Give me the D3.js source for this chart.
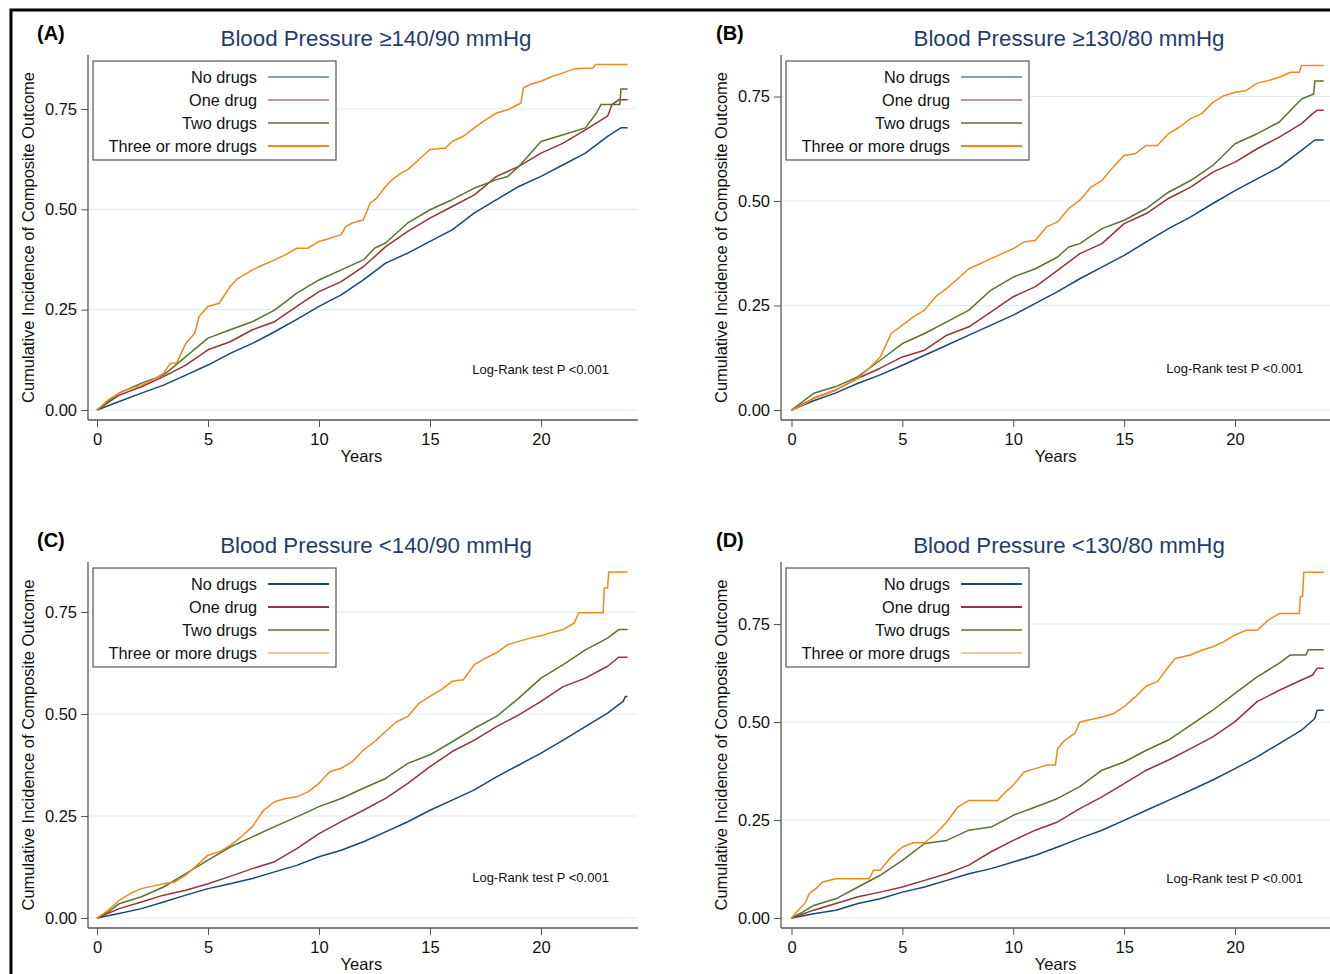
<!DOCTYPE html>
<html><head><meta charset="utf-8">
<script src="https://cdn.jsdelivr.net/npm/d3@7"></script>
<style>body{margin:0;background:#fff}svg{display:block}text{font-family:"Liberation Sans",Arial,sans-serif}</style>
</head><body>
<svg id="c" width="1330" height="974"></svg>
<script>
// ---------- data (years, cumulative incidence) ----------
const seriesNames = ["No drugs","One drug","Two drugs","Three or more drugs"];
const xTicks = [0,5,10,15,20];
const yTicks = [0,0.25,0.5,0.75];
const panelLetters = ["(A)","(B)","(C)","(D)"];
const panelTitles = ["Blood Pressure \u2265140/90 mmHg","Blood Pressure \u2265130/80 mmHg","Blood Pressure <140/90 mmHg","Blood Pressure <130/80 mmHg"];
const pText = "Log-Rank test P <0.001";

const A_none = [[0,0],[1,.021],[2,.042],[3,.062],[4,.087],[5,.112],[6,.141],[7,.166],[8,.195],[9,.226],[10,.258],[11,.287],[12,.324],[13,.366],[14,.391],[15,.42],[16,.449],[17,.491],[18,.524],[19,.557],[20,.582],[21,.611],[22,.64],[23,.682],[23.6,.703],[23.9,.703]];
const A_one = [[0,0],[1,.037],[2,.058],[3,.083],[4,.112],[5,.15],[6,.17],[7,.2],[8,.22],[9,.258],[10,.295],[11,.32],[12,.357],[13,.407],[14,.445],[15,.478],[16,.507],[17,.536],[18,.582],[19,.607],[20,.64],[21,.665],[22,.698],[23,.732],[23.2,.761],[23.5,.773],[23.9,.773]];
const A_two = [[0,0],[0.5,.021],[1,.042],[2,.067],[3,.087],[4,.133],[5,.179],[6,.2],[7,.22],[8,.249],[9,.291],[10,.324],[11,.349],[12,.374],[12.5,.403],[13,.416],[14,.466],[15,.499],[16,.524],[17,.553],[18,.574],[18.5,.582],[19,.607],[20,.669],[21,.686],[22,.703],[22.5,.74],[22.7,.761],[23.55,.761],[23.6,.8],[23.9,.8]];
const A_three = [[0,0],[0.5,.025],[1.2,.048],[2,.062],[2.5,.075],[3,.091],[3.3,.116],[3.6,.118],[4,.166],[4.4,.191],[4.6,.233],[5,.258],[5.5,.266],[5.8,.291],[6,.308],[6.3,.326],[7,.349],[7.5,.362],[8,.374],[8.5,.387],[9,.403],[9.5,.403],[10,.42],[10.5,.428],[11,.437],[11.2,.457],[11.5,.466],[12,.474],[12.3,.515],[12.6,.528],[13,.557],[13.3,.574],[13.7,.59],[14,.599],[14.5,.624],[15,.649],[15.7,.653],[16,.669],[16.5,.682],[17,.703],[17.5,.723],[18,.74],[18.5,.748],[19.1,.765],[19.2,.802],[19.5,.811],[20,.819],[20.5,.831],[21,.84],[21.5,.85],[22.35,.852],[22.45,.861],[23.9,.861]];

const B_none = [[0,0],[1,.022],[2,.041],[3,.064],[4,.084],[5,.107],[6,.131],[7,.155],[8,.179],[9,.203],[10,.227],[11,.255],[12,.283],[13,.314],[14,.342],[15,.37],[16,.402],[17,.434],[18,.462],[19,.494],[20,.525],[21,.553],[22,.581],[23,.621],[23.6,.646],[24,.646]];
const B_one = [[0,0],[1,.028],[2,.048],[3,.076],[4,.1],[5,.127],[6,.143],[7,.179],[8,.199],[9,.235],[10,.271],[11,.295],[12,.334],[13,.374],[14,.398],[15,.446],[16,.47],[17,.506],[18,.533],[19,.569],[20,.593],[21,.625],[22,.653],[23,.685],[23.5,.709],[23.7,.717],[24,.717]];
const B_two = [[0,0],[1,.04],[2,.056],[3,.08],[4,.119],[5,.159],[6,.183],[7,.211],[8,.239],[9,.287],[10,.318],[11,.338],[12,.366],[12.5,.39],[13,.398],[14,.434],[15,.454],[16,.482],[17,.521],[18,.549],[19,.585],[20,.637],[21,.661],[22,.689],[23,.744],[23.55,.756],[23.6,.787],[24,.787]];
const B_three = [[0,0],[0.5,.012],[1,.028],[2,.048],[3,.076],[3.5,.1],[4,.127],[4.5,.183],[5,.203],[5.5,.223],[6,.239],[6.5,.271],[7,.291],[7.5,.314],[8,.338],[8.5,.35],[9,.362],[9.5,.374],[10,.386],[10.5,.402],[11,.406],[11.5,.438],[12,.45],[12.5,.482],[13,.502],[13.5,.533],[14,.549],[14.5,.581],[15,.609],[15.5,.613],[16,.633],[16.5,.633],[17,.661],[17.5,.677],[18,.697],[18.5,.709],[19,.736],[19.5,.752],[20,.76],[20.5,.764],[21,.782],[21.5,.788],[22,.796],[22.5,.808],[22.9,.808],[23,.824],[24,.824]];

const C_none = [[0,0],[1,.011],[2,.023],[3,.039],[4,.056],[5,.072],[6,.084],[7,.097],[8,.113],[9,.129],[10,.15],[11,.166],[12,.187],[13,.211],[14,.236],[15,.264],[16,.289],[17,.314],[18,.346],[19,.375],[20,.404],[21,.436],[22,.469],[23,.502],[23.7,.531],[23.8,.543],[23.9,.543]];
const C_one = [[0,0],[1,.023],[2,.039],[3,.056],[4,.068],[5,.084],[6,.102],[7,.121],[8,.138],[9,.17],[10,.207],[11,.236],[12,.264],[13,.293],[14,.33],[15,.371],[16,.408],[17,.436],[18,.469],[19,.498],[20,.531],[21,.567],[22,.588],[23,.617],[23.5,.639],[23.9,.639]];
const C_two = [[0,0],[0.5,.015],[1,.035],[2,.052],[3,.076],[4,.109],[5,.142],[6,.174],[7,.199],[8,.224],[9,.248],[10,.273],[11,.293],[12,.318],[13,.342],[14,.379],[15,.4],[16,.432],[17,.465],[18,.494],[19,.539],[20,.588],[21,.621],[22,.657],[23,.686],[23.5,.707],[23.9,.707]];
const C_three = [[0,0],[0.5,.019],[1,.043],[1.5,.06],[2,.072],[3,.084],[3.5,.088],[4,.105],[4.5,.129],[5,.154],[5.5,.162],[6,.178],[6.5,.199],[7,.224],[7.5,.264],[8,.285],[8.5,.293],[9,.297],[9.5,.309],[10,.33],[10.5,.359],[11,.367],[11.5,.383],[12,.412],[12.5,.432],[13,.457],[13.5,.481],[14,.494],[14.5,.526],[15,.543],[15.5,.559],[16,.58],[16.5,.584],[17,.621],[17.5,.637],[18,.65],[18.5,.67],[19,.678],[19.5,.686],[20,.692],[20.5,.7],[21,.707],[21.5,.723],[21.7,.748],[22.8,.748],[22.85,.809],[23.0,.809],[23.05,.848],[23.9,.848]];

const D_none = [[0,0],[1,.011],[2,.02],[3,.037],[4,.049],[5,.066],[6,.079],[7,.096],[8,.113],[9,.126],[10,.143],[11,.16],[12,.181],[13,.203],[14,.224],[15,.249],[16,.275],[17,.3],[18,.326],[19,.352],[20,.381],[21,.411],[22,.445],[23,.479],[23.6,.509],[23.7,.53],[24,.53]];
const D_one = [[0,0],[1,.02],[2,.037],[3,.054],[4,.066],[5,.079],[6,.096],[7,.113],[8,.135],[9,.169],[10,.198],[11,.224],[12,.245],[13,.279],[14,.309],[15,.343],[16,.377],[17,.403],[18,.432],[19,.462],[20,.501],[21,.552],[22,.581],[23,.607],[23.5,.62],[23.7,.637],[24,.637]];
const D_two = [[0,0],[0.5,.015],[1,.032],[2,.049],[3,.079],[4,.109],[5,.147],[6,.19],[7,.198],[8,.224],[9,.232],[10,.262],[11,.283],[12,.305],[13,.335],[14,.377],[15,.398],[16,.428],[17,.454],[18,.492],[19,.53],[20,.573],[21,.615],[22,.65],[22.5,.671],[23.2,.671],[23.3,.684],[24,.684]];
const D_three = [[0,0],[0.3,.02],[0.6,.037],[0.8,.062],[1.1,.075],[1.4,.092],[2,.1],[3.5,.1],[3.7,.122],[4,.122],[4.5,.156],[5,.181],[5.5,.192],[6,.192],[6.5,.215],[7,.245],[7.5,.283],[8,.3],[9.3,.3],[9.5,.313],[10,.339],[10.5,.373],[11,.381],[11.5,.39],[11.9,.39],[12,.432],[12.3,.452],[12.8,.472],[13,.5],[14,.513],[14.5,.521],[15,.539],[15.5,.564],[16,.592],[16.5,.603],[17,.641],[17.3,.662],[18,.671],[18.5,.683],[19,.692],[19.5,.705],[20,.722],[20.5,.734],[21,.734],[21.5,.76],[22,.777],[22.9,.777],[22.95,.82],[23.05,.82],[23.1,.882],[24,.882]];

const panelData = [[A_none,A_one,A_two,A_three],[B_none,B_one,B_two,B_three],[C_none,C_one,C_two,C_three],[D_none,D_one,D_two,D_three]];

// ---------- styles / layout ----------
const colors = ["#1a476f","#90353b","#55752f","#ee8a1a"];
const layout = [
  {ax:88, x:[97,541], y:[410,109], top:55, right:638, lx:37},
  {ax:781, x:[791.5,1235], y:[410,96.5], top:55, right:1335, lx:716},
  {ax:88, x:[97,541], y:[918,612], top:562, right:638, lx:37},
  {ax:781, x:[791.5,1235], y:[918,624], top:562, right:1335, lx:716}
];
const legendW = [[1.3,1.3,1.6,2.2],[1.3,1.3,1.6,2.2],[2,2,1.5,1.2],[2,2,1.5,1.2]];
const legendOp = [[0.7,0.7,1,1],[0.7,0.7,1,1],[1,1,1,1],[1,1,1,1]];

const svg = d3.select("#c");
svg.append("rect").attr("x",11).attr("y",10).attr("width",1400).attr("height",1100)
  .attr("fill","none").attr("stroke","#000").attr("stroke-width",3);

layout.forEach((L,i)=>{
  const g = svg.append("g");
  const x = d3.scaleLinear().domain([0,20]).range(L.x);
  const y = d3.scaleLinear().domain([0,0.75]).range(L.y);
  const xAxisY = y(0)+10;

  // gridlines
  g.selectAll(".grid").data(yTicks).join("line")
    .attr("x1",L.ax+1).attr("x2",L.right-1).attr("y1",d=>y(d)).attr("y2",d=>y(d))
    .attr("stroke","#e3eced").attr("stroke-width",1.2);

  // axes
  const ya = g.append("g").attr("transform",`translate(${L.ax},0)`)
    .call(d3.axisLeft(y).tickValues(yTicks).tickFormat(d3.format(".2f")).tickSize(7).tickPadding(4));
  ya.select(".domain").remove();
  const xa = g.append("g").attr("transform",`translate(0,${xAxisY})`)
    .call(d3.axisBottom(x).tickValues(xTicks).tickSize(7).tickPadding(6));
  xa.select(".domain").remove();
  [ya,xa].forEach(a=>{
    a.selectAll("line").attr("stroke","#555");
    a.selectAll("text").attr("font-size",16.5).attr("fill","#111").attr("font-family","Liberation Sans, Arial, sans-serif");
  });
  g.append("line").attr("x1",L.ax).attr("x2",L.ax).attr("y1",L.top).attr("y2",xAxisY).attr("stroke","#555").attr("stroke-width",1.3);
  g.append("line").attr("x1",L.ax).attr("x2",L.right).attr("y1",xAxisY).attr("y2",xAxisY).attr("stroke","#555").attr("stroke-width",1.3);

  // axis titles
  g.append("text").attr("x",(x(0)+x(24))/2 - 2).attr("y",xAxisY+42).attr("text-anchor","middle")
    .attr("font-size",16.5).attr("fill","#111").text("Years");
  g.append("text").attr("transform",`translate(${L.ax-60},${(L.top+xAxisY)/2})rotate(-90)`)
    .attr("text-anchor","middle").attr("dominant-baseline","central")
    .attr("font-size",16.5).attr("fill","#111").text("Cumulative Incidence of Composite Outcome");

  // title and panel letter
  g.append("text").attr("x",L.ax+288).attr("y",L.top-9).attr("text-anchor","middle")
    .attr("font-size",22.3).attr("fill","#1f3c6e").text(panelTitles[i]);
  g.append("text").attr("x",L.lx).attr("y",L.top-15).attr("font-size",20).attr("font-weight","bold")
    .attr("fill","#000").text(panelLetters[i]);

  // curves
  panelData[i].forEach((s,k)=>{
    const line = d3.line().x(d=>x(d[0])).y(d=>y(d[1])).curve(d3.curveLinear);
    g.append("path").datum(s).attr("d",line).attr("fill","none")
      .attr("stroke",colors[k]).attr("stroke-width",1.5).attr("stroke-linejoin","round");
  });

  // p-value
  g.append("text").attr("x",x(16.9)).attr("y",y(0.1)).attr("dominant-baseline","central")
    .attr("font-size",13).attr("fill","#111").text(pText);

  // legend
  const lx = L.ax+5, ly = L.top+6, lw = 243, lh = 99;
  g.append("rect").attr("x",lx).attr("y",ly).attr("width",lw).attr("height",lh)
    .attr("fill","#fff").attr("stroke","#555").attr("stroke-width",1.2);
  seriesNames.forEach((nm,k)=>{
    const ry = ly + 16 + k*23;
    g.append("text").attr("x",lx+164).attr("y",ry).attr("text-anchor","end").attr("dominant-baseline","central")
      .attr("font-size",16.3).attr("fill","#111").text(nm);
    g.append("line").attr("x1",lx+175).attr("x2",lx+236).attr("y1",ry).attr("y2",ry)
      .attr("stroke",colors[k]).attr("stroke-width",legendW[i][k]).attr("stroke-opacity",legendOp[i][k]);
  });
});
</script>
</body></html>
